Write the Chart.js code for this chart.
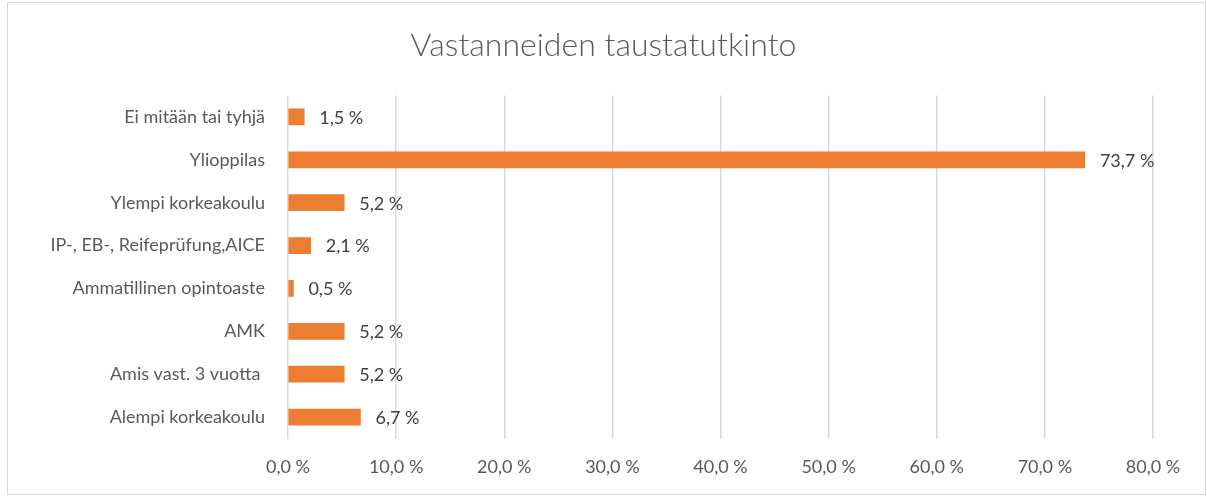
<!DOCTYPE html>
<html lang="fi">
<head>
<meta charset="UTF-8">
<title>Vastanneiden taustatutkinto</title>
<script src="https://cdn.jsdelivr.net/npm/chart.js"></script>
<style>
  * { margin: 0; padding: 0; box-sizing: border-box; }
  body { background: #fff; width: 1207px; height: 496px; overflow: hidden; }
  #wrap { position: relative; width: 1207px; height: 496px; }
</style>
</head>
<body>
<div id="wrap"><canvas id="chart" width="1207" height="496"></canvas></div>
<script>
const chartTitle = 'Vastanneiden taustatutkinto';
const categories = [
  'Ei mitään tai tyhjä',
  'Ylioppilas',
  'Ylempi korkeakoulu',
  'IP-, EB-, Reifeprüfung,AICE',
  'Ammatillinen opintoaste',
  'AMK',
  'Amis vast. 3 vuotta ',
  'Alempi korkeakoulu'
];
const shares = [1.5, 73.7, 5.2, 2.1, 0.5, 5.2, 5.2, 6.7];
const xTicks = [0, 10, 20, 30, 40, 50, 60, 70, 80];

const FONT = 'Lato, "Open Sans", sans-serif';
const fmt = v => v.toFixed(1).replace('.', ',') + ' %';

// outer frame + title centred on the whole chart area, like Excel
const framePlugin = {
  id: 'frame',
  beforeDraw(chart) {
    const c = chart.ctx;
    c.save();
    c.strokeStyle = '#d9d9d9';
    c.lineWidth = 1;
    c.strokeRect(7.5, 2.5, chart.width - 9, chart.height - 4);
    c.font = '300 32px ' + FONT;
    c.fillStyle = '#595959';
    c.textAlign = 'center';
    c.textBaseline = 'middle';
    c.fillText(chartTitle, chart.width / 2, 46);
    c.restore();
  }
};

// value labels at bar ends
const valueLabels = {
  id: 'valueLabels',
  afterDatasetsDraw(chart) {
    const c = chart.ctx;
    const meta = chart.getDatasetMeta(0);
    c.save();
    c.font = '18px ' + FONT;
    c.fillStyle = '#404040';
    c.textBaseline = 'middle';
    c.textAlign = 'left';
    meta.data.forEach((bar, i) => {
      c.fillText(fmt(shares[i]), bar.x + 15, bar.y + 1);
    });
    c.restore();
  }
};

new Chart(document.getElementById('chart'), {
  type: 'bar',
  data: {
    labels: categories,
    datasets: [{
      data: shares,
      backgroundColor: '#ed7d31',
      barThickness: 16
    }]
  },
  options: {
    indexAxis: 'y',
    responsive: false,
    animation: false,
    layout: { padding: { left: 0, right: 54, top: 95.5, bottom: 0 } },
    plugins: {
      legend: { display: false },
      tooltip: { enabled: false },
      title: { display: false }
    },
    scales: {
      x: {
        min: 0,
        max: 80,
        afterBuildTicks: s => { s.ticks = xTicks.map(v => ({ value: v })); },
        afterFit: s => { s.height = 57.5; },
        grid: { color: '#d9d9d9', lineWidth: 1.5, drawTicks: false },
        border: { display: false },
        ticks: {
          color: '#595959',
          padding: 18,
          font: { family: FONT, size: 18 },
          callback: v => fmt(v)
        }
      },
      y: {
        afterFit: s => { s.width = 288; },
        grid: { display: false },
        border: { display: false },
        ticks: {
          color: '#595959',
          padding: 15,
          font: { family: FONT, size: 18 }
        }
      }
    }
  },
  plugins: [framePlugin, valueLabels]
});
</script>
</body>
</html>
